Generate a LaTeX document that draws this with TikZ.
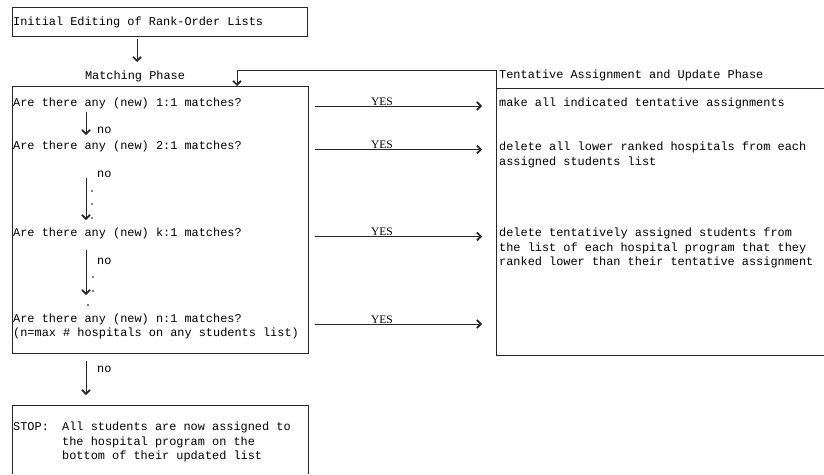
\documentclass[tikz,border=0pt]{standalone}
\usepackage{fontspec}
\setmainfont{Liberation Serif}
\newfontfamily\tw{Liberation Mono}
\usetikzlibrary{arrows.meta}
\begin{document}
\begin{tikzpicture}[x=1pt,y=-1pt,
  ln/.style={line width=0.7pt, draw=black!85},
  arr/.style={ln, -{Straight Barb[length=4pt,width=8pt,line width=1.7pt]}},
  txt/.style={anchor=base west, inner sep=0pt, font=\tw\fontsize{11.9}{14.5}\selectfont},
  yes/.style={anchor=south, inner sep=0.6pt, font=\fontsize{11.5}{13}\selectfont},
  dot/.style={circle, fill=black, inner sep=0pt, minimum size=1.7pt},
  box/.style={ln, rectangle, inner sep=0pt, anchor=north west},
]
\useasboundingbox (0,0) rectangle (824,474);
% boxes
\node[box, minimum width=295pt, minimum height=29pt] (topbox) at (12,7) {};
\node[box, minimum width=296pt, minimum height=267pt] (mainbox) at (12,86) {};
\coordinate (stopBL) at (12,474);
\coordinate (stopTL) at (12,405);
\coordinate (stopTR) at (308,405);
\coordinate (stopBR) at (308,474);
\draw[ln] (stopBL) -- (stopTL) -- (stopTR) -- (stopBR);
\coordinate (rTL) at (496,70);
\coordinate (rBL) at (496,355);
\coordinate (rBR) at (824,355);
\coordinate (rLa) at (496,88);
\coordinate (rRa) at (824,88);
\draw[ln] (rTL) -- (rBL) -- (rBR);
\draw[ln] (rLa) -- (rRa);
% feedback
\coordinate (fbC) at (237,70);
\coordinate (fbE) at (237,86);
\draw[arr] (rTL) -- (fbC) -- (fbE);
% texts
\node[txt] (t0) at (13,25.5) {Initial Editing of Rank-Order Lists};
\node[txt, anchor=base] (mp) at (135,79) {Matching Phase};
\node[txt] (tt) at (499,78) {Tentative Assignment and Update Phase};
\node[txt] (q1) at (13,106) {Are there any (new) 1:1 matches?};
\node[txt] (q2) at (13,149.5) {Are there any (new) 2:1 matches?};
\node[txt] (qk) at (13,236.5) {Are there any (new) k:1 matches?};
\node[txt] (qn) at (13,322) {Are there any (new) n:1 matches?};
\node[txt] (qn2) at (13,336.5) {(n=max \# hospitals on any students list)};
\node[txt] (no1) at (97,133) {no};
\node[txt] (no2) at (97,177) {no};
\node[txt] (no3) at (97,264) {no};
\node[txt] (no4) at (97,372) {no};
\node[txt] (r1) at (499,106) {make all indicated tentative assignments};
\node[txt] (r2a) at (499,150.5) {delete all lower ranked hospitals from each};
\node[txt] (r2b) at (499,165) {assigned students list};
\node[txt] (r3a) at (499,236.5) {delete tentatively assigned students from};
\node[txt] (r3b) at (499,251) {the list of each hospital program that they};
\node[txt] (r3c) at (499,265.5) {ranked lower than their tentative assignment};
\node[txt] (s0) at (13,430.5) {STOP:};
\node[txt] (s1) at (62,430.5) {All students are now assigned to};
\node[txt] (s2) at (62,445) {the hospital program on the};
\node[txt] (s3) at (62,459.5) {bottom of their updated list};
% vertical arrows
\coordinate (a0s) at (137,39);  \coordinate (a0e) at (137,62);
\coordinate (a1s) at (86,112);  \coordinate (a1e) at (86,135);
\coordinate (a2s) at (86,178);  \coordinate (a2e) at (86,220);
\coordinate (a3s) at (86,250);  \coordinate (a3e) at (86,295);
\coordinate (a4s) at (86,361);  \coordinate (a4e) at (86,395);
\draw[arr] (a0s) -- (a0e);
\draw[arr] (a1s) -- (a1e);
\draw[arr] (a2s) -- (a2e);
\draw[arr] (a3s) -- (a3e);
\draw[arr] (a4s) -- (a4e);
% dots
\node[dot] (d1) at (92,191) {};
\node[dot] (d2) at (92,204) {};
\node[dot] (d3) at (92,218) {};
\node[dot] (d4) at (93,277) {};
\node[dot] (d5) at (93,291) {};
\node[dot] (d6) at (88,305) {};
% YES arrows
\foreach \i/\y in {1/106,2/149.5,3/236.5,4/324}{
  \coordinate (ys\i) at (315,\y);
  \coordinate (ye\i) at (482,\y);
  \draw[arr] (ys\i) -- (ye\i);
  \node[yes] (yes\i) at (382,\y) {YES};
}
\end{tikzpicture}
\end{document}
